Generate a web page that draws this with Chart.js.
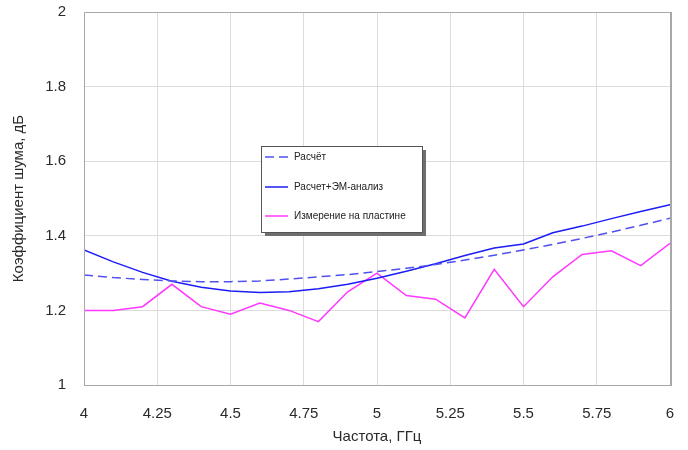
<!DOCTYPE html>
<html>
<head>
<meta charset="utf-8">
<script src="https://cdn.jsdelivr.net/npm/chart.js@4"></script>
<style>
  body { margin: 0; background: #fff; }
  #wrap { width: 688px; height: 450px; }
</style>
</head>
<body>
<div id="wrap"><canvas id="chart" width="688" height="450"></canvas></div>
<script>
// Noise figure vs frequency

const freq = [4.0, 4.1, 4.2, 4.3, 4.4, 4.5, 4.6, 4.7, 4.8, 4.9, 5.0,
              5.1, 5.2, 5.3, 5.4, 5.5, 5.6, 5.7, 5.8, 5.9, 6.0];
const calc = [1.295, 1.288, 1.283, 1.279, 1.277, 1.277, 1.279, 1.284, 1.290, 1.296, 1.304,
              1.313, 1.323, 1.335, 1.348, 1.362, 1.377, 1.393, 1.410, 1.428, 1.447];
const calcEm = [1.362, 1.330, 1.302, 1.278, 1.262, 1.252, 1.248, 1.250, 1.258, 1.270, 1.286,
                1.305, 1.325, 1.347, 1.367, 1.378, 1.408, 1.426, 1.446, 1.465, 1.483];
const measured = [1.20, 1.20, 1.21, 1.27, 1.21, 1.19, 1.22, 1.20, 1.17, 1.25, 1.30,
                  1.24, 1.23, 1.18, 1.31, 1.21, 1.29, 1.35, 1.36, 1.32, 1.38];
const seriesNames = ['Расчёт', 'Расчет+ЭМ-анализ', 'Измерение на пластине'];

const FONT = "'Liberation Sans', Arial, sans-serif";

function pts(ys) {
    return freq.map((x, i) => ({ x: x, y: ys[i] }));
}

// plain number labels: 4, 4.25, 4.5 ... and 1, 1.2 ... 2
function fmt(v) {
    return String(+Number(v).toFixed(2));
}

// frame round the plot area and the boxed legend in the middle
const framePlugin = {
    id: 'frame',
    afterDraw(chart) {
        const ctx = chart.ctx;
        const a = chart.chartArea;
        ctx.save();
        ctx.strokeStyle = '#a8a8a8';
        ctx.lineWidth = 1;
        ctx.beginPath();
        ctx.moveTo(a.left + 0.5, a.bottom + 0.5);
        ctx.lineTo(a.left + 0.5, a.top + 0.5);
        ctx.lineTo(a.right, a.top + 0.5);
        ctx.moveTo(a.left, a.bottom + 0.5);
        ctx.lineTo(a.right, a.bottom + 0.5);
        ctx.stroke();
        ctx.lineWidth = 2;
        ctx.beginPath();
        ctx.moveTo(a.right + 1, a.top);
        ctx.lineTo(a.right + 1, a.bottom + 1);
        ctx.stroke();

        // legend box
        const bx = 261, by = 146, bw = 161, bh = 86;
        ctx.fillStyle = '#6e6e6e';
        ctx.fillRect(bx + 4, by + 4, bw, bh);
        ctx.fillStyle = '#fff';
        ctx.fillRect(bx, by, bw, bh);
        ctx.strokeStyle = '#555';
        ctx.lineWidth = 1;
        ctx.strokeRect(bx + 0.5, by + 0.5, bw, bh);

        const rows = [157, 187, 216];
        chart.data.datasets.forEach((ds, i) => {
            const y = rows[i];
            ctx.strokeStyle = ds.borderColor;
            ctx.lineWidth = 1.5;
            ctx.setLineDash(ds.borderDash || []);
            ctx.beginPath();
            ctx.moveTo(bx + 4, y);
            ctx.lineTo(bx + 27, y);
            ctx.stroke();
            ctx.setLineDash([]);
            ctx.fillStyle = '#222';
            ctx.font = "10px 'Liberation Sans', Arial, sans-serif";
            ctx.textBaseline = 'middle';
            ctx.textAlign = 'left';
            ctx.fillText(ds.label, bx + 33, y);
        });
        ctx.restore();
    }
};

new Chart(document.getElementById('chart').getContext('2d'), {
    type: 'line',
    data: {
        datasets: [
            { label: seriesNames[0], data: pts(calc), borderColor: '#5050f0', borderWidth: 1.5,
              borderDash: [9, 5], pointRadius: 0, tension: 0 },
            { label: seriesNames[1], data: pts(calcEm), borderColor: '#1c1cf5', borderWidth: 1.5,
              pointRadius: 0, tension: 0 },
            { label: seriesNames[2], data: pts(measured), borderColor: '#ff38ff', borderWidth: 1.5,
              pointRadius: 0, tension: 0 }
        ]
    },
    options: {
        responsive: false,
        animation: false,
        layout: { padding: { top: 12, right: 18, left: 0, bottom: 0 } },
        plugins: { legend: { display: false }, tooltip: { enabled: false } },
        scales: {
            x: {
                type: 'linear', min: 4, max: 6,
                ticks: { stepSize: 0.25, color: '#2a2a2a', padding: 20, callback: fmt,
                         font: { family: FONT, size: 15 } },
                grid: { color: '#dcdcdc', drawTicks: false },
                border: { display: false },
                title: { display: true, text: 'Частота, ГГц', color: '#2a2a2a', padding: { top: 8 },
                         font: { family: FONT, size: 15 } },
                afterFit(scale) {
                    scale.height = 65;
                    scale.paddingLeft = 0;
                    scale.paddingRight = 0;
                }
            },
            y: {
                min: 1, max: 2,
                ticks: { stepSize: 0.2, color: '#2a2a2a', padding: 18, callback: fmt,
                         font: { family: FONT, size: 15 } },
                grid: { color: '#dcdcdc', drawTicks: false },
                border: { display: false },
                title: { display: true, text: 'Коэффициент шума, дБ', color: '#2a2a2a',
                         padding: { top: 10, bottom: 0 },
                         font: { family: FONT, size: 15 } },
                afterFit(scale) {
                    scale.width = 84;
                    scale.paddingTop = 0;
                    scale.paddingBottom = 0;
                }
            }
        }
    },
    plugins: [framePlugin]
});
</script>
</body>
</html>
